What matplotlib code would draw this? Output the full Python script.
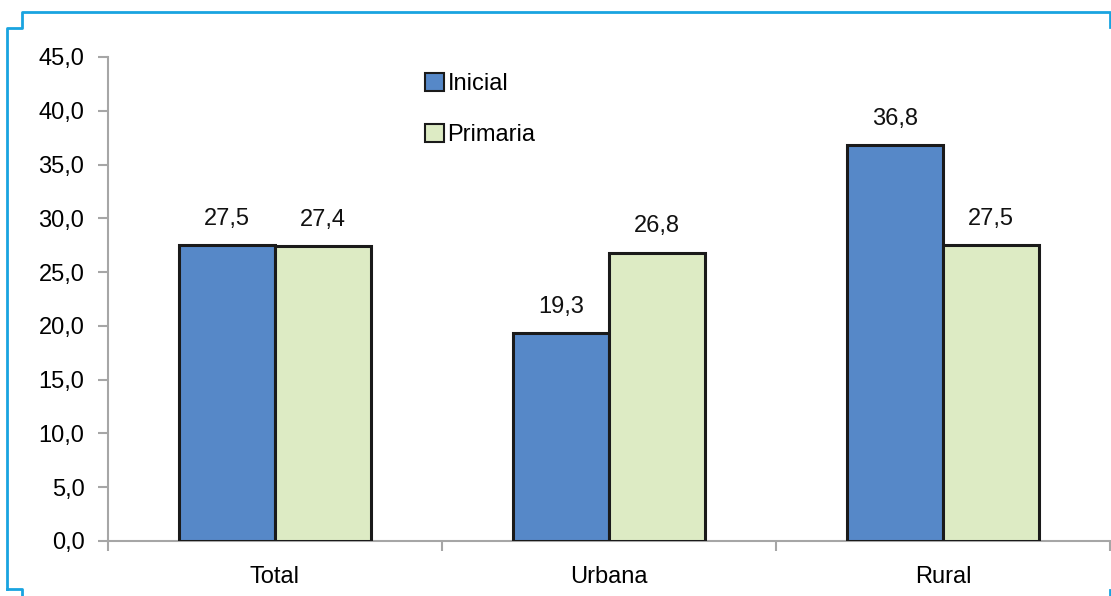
import matplotlib
matplotlib.use("Agg")
import matplotlib.pyplot as plt
from matplotlib.lines import Line2D
from matplotlib.patches import Patch
from matplotlib import font_manager as fm
import numpy as np

categories = ["Total", "Urbana", "Rural"]
inicial = [27.5, 19.3, 36.8]
primaria = [27.4, 26.8, 27.5]
series_names = ["Inicial", "Primaria"]
yticks = [0, 5, 10, 15, 20, 25, 30, 35, 40, 45]

names = {f.name for f in fm.fontManager.ttflist}
fam = "Liberation Sans Narrow" if "Liberation Sans Narrow" in names else "Liberation Sans"
plt.rcParams['font.family'] = [fam, 'DejaVu Sans']

W, H = 1111, 596
fig = plt.figure(figsize=(W/100, H/100), dpi=100)
ax = fig.add_axes([108/W, 1-541/H, (1110-108)/W, (541-57)/H])

blue = "#5688C8"
green = "#DDEBC4"
x = np.arange(len(categories))
bw = 0.287
b1 = ax.bar(x - bw/2, inicial, bw, color=blue, edgecolor="#1a1a1a", linewidth=2.2, zorder=3)
b2 = ax.bar(x + bw/2, primaria, bw, color=green, edgecolor="#1a1a1a", linewidth=2.2, zorder=3)

for bars, vals in ((b1, inicial), (b2, primaria)):
    for r, v in zip(bars, vals):
        ax.annotate(f"{v:.1f}".replace(".", ","), (r.get_x()+r.get_width()/2, v),
                    xytext=(0, 11), textcoords="offset points", ha="center", va="bottom",
                    fontsize=17, color="#111111")

ax.set_xlim(-0.5, 2.5)
ax.set_ylim(0, 45)
ax.set_yticks(yticks)
ax.set_yticklabels([f"{t:.1f}".replace(".", ",") for t in yticks], fontsize=17)
ax.set_xticks(x)
ax.set_xticklabels(categories, fontsize=17)
ax.set_xticks([-0.5, 0.5, 1.5, 2.5], minor=True)
ax.tick_params(axis="x", which="major", length=0, pad=18)
ax.tick_params(axis="x", which="minor", length=7, color="#A6A6A6", width=1.5)
ax.tick_params(axis="y", length=7, color="#A6A6A6", width=1.5, pad=10)
for s in ("top", "right"):
    ax.spines[s].set_visible(False)
for s in ("left", "bottom"):
    ax.spines[s].set_color("#A6A6A6")
    ax.spines[s].set_linewidth(1.5)

handles = [Patch(facecolor=blue, edgecolor="#1a1a1a", linewidth=1.5),
           Patch(facecolor=green, edgecolor="#1a1a1a", linewidth=1.5)]
fig.legend(handles, series_names, loc="upper left", bbox_to_anchor=(425/W, 1-73/H),
           frameon=False, fontsize=17, handlelength=0.8, handleheight=0.8,
           handletextpad=0.15, labelspacing=1.2, borderpad=0, borderaxespad=0)

cyan = "#19A4E0"
def fl(xs, ys):
    fig.add_artist(Line2D([v/W for v in xs], [1-v/H for v in ys], color=cyan,
                          linewidth=2, transform=fig.transFigure))
fl([7, 7, 22, 22, 1110, 1110], [589, 28, 28, 12, 12, 27])
fl([7, 22, 22], [589, 589, 596])
fl([1110, 1110], [590, 596])

fig.savefig("out.png", dpi=100)
